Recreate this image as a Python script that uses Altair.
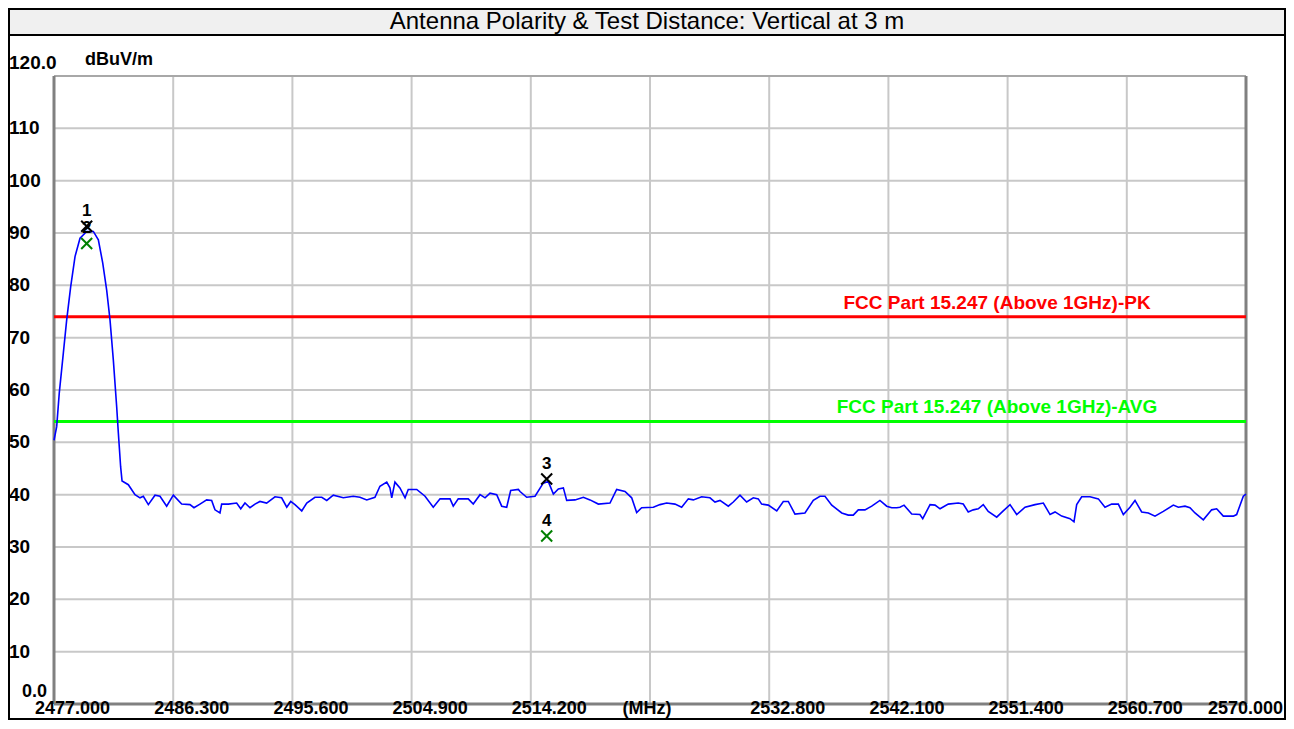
import altair as alt
import pandas as pd

# ---------------- data ----------------
freq = [2477.00, 2477.21, 2477.41, 2477.73, 2477.99, 2478.30, 2478.64, 2479.03, 2479.55, 2480.07,
        2480.46, 2480.80, 2481.11, 2481.37, 2481.63, 2481.89, 2482.02, 2482.20, 2482.31, 2482.80,
        2483.32, 2483.71, 2483.97, 2484.36, 2484.88, 2485.27, 2485.79, 2486.31, 2486.96, 2487.61,
        2487.92, 2488.39, 2488.91, 2489.30, 2489.56, 2489.95, 2490.08, 2490.60, 2491.25, 2491.57,
        2491.90, 2492.29, 2492.68, 2493.07, 2493.59, 2494.24, 2494.76, 2495.16, 2495.47, 2495.80,
        2496.33, 2496.72, 2497.36, 2497.89, 2498.28, 2498.79, 2499.57, 2500.35, 2500.87, 2501.40,
        2502.04, 2502.43, 2502.96, 2503.21, 2503.35, 2503.60, 2503.99, 2504.39, 2504.64, 2505.30,
        2505.95, 2506.59, 2507.12, 2507.90, 2508.15, 2508.54, 2509.32, 2509.71, 2510.24, 2510.63,
        2511.02, 2511.54, 2511.93, 2512.32, 2512.63, 2513.23, 2513.36, 2513.88, 2514.53, 2515.17,
        2515.57, 2515.96, 2516.35, 2516.74, 2517.00, 2517.65, 2518.30, 2518.82, 2519.47, 2520.38,
        2520.90, 2521.55, 2522.07, 2522.46, 2522.85, 2523.76, 2524.28, 2524.80, 2525.45, 2525.97,
        2526.49, 2526.88, 2527.53, 2528.18, 2528.57, 2528.96, 2529.61, 2530.00, 2530.52, 2531.04,
        2531.56, 2531.95, 2532.21, 2532.73, 2533.39, 2533.90, 2534.29, 2534.81, 2535.59, 2536.24,
        2536.76, 2537.15, 2537.68, 2538.46, 2538.97, 2539.36, 2539.75, 2540.27, 2540.80, 2541.44,
        2541.97, 2542.36, 2542.75, 2543.00, 2543.32, 2543.92, 2544.56, 2544.78, 2545.35, 2545.74,
        2546.13, 2546.77, 2547.55, 2547.94, 2548.33, 2548.72, 2549.11, 2549.50, 2549.89, 2550.55,
        2551.06, 2551.59, 2552.11, 2552.76, 2553.54, 2554.19, 2554.71, 2555.10, 2555.62, 2556.27,
        2556.58, 2556.79, 2557.18, 2557.83, 2558.48, 2559.00, 2559.52, 2560.04, 2560.43, 2560.95,
        2561.34, 2561.86, 2562.38, 2562.90, 2563.55, 2564.33, 2564.72, 2565.24, 2565.63, 2566.02,
        2566.67, 2567.32, 2567.71, 2568.23, 2569.01, 2569.27, 2569.79, 2570.00]

level = [50.4, 53.0, 59.4, 67.1, 73.4, 79.7, 85.5, 89.0, 90.3, 90.3,
         88.7, 84.3, 79.1, 73.4, 65.7, 56.8, 51.8, 45.3, 42.6, 41.9,
         40.0, 39.4, 39.7, 38.1, 39.9, 39.7, 37.8, 39.9, 38.2, 38.1,
         37.5, 38.2, 39.0, 38.9, 37.1, 36.5, 38.2, 38.2, 38.4, 37.3,
         38.4, 37.5, 38.2, 38.7, 38.4, 39.6, 39.4, 37.6, 38.7, 38.1,
         36.9, 38.4, 39.5, 39.5, 38.9, 39.9, 39.4, 39.7, 39.5, 39.0,
         39.5, 41.6, 42.4, 41.3, 39.4, 42.4, 41.3, 39.4, 41.0, 41.0,
         39.7, 37.6, 39.2, 39.2, 37.8, 39.2, 39.2, 38.2, 40.0, 39.4,
         40.3, 40.0, 37.8, 37.6, 40.8, 41.0, 40.6, 39.5, 39.7, 42.2,
         42.5, 40.1, 41.1, 41.3, 38.9, 39.0, 39.5, 39.0, 38.2, 38.4,
         41.0, 40.6, 39.4, 36.6, 37.5, 37.6, 38.1, 38.4, 38.2, 37.6,
         39.2, 39.0, 39.6, 39.4, 38.6, 38.9, 37.8, 38.6, 39.9, 38.6,
         39.4, 39.2, 38.2, 38.0, 36.9, 38.7, 38.7, 36.3, 36.5, 38.9,
         39.7, 39.7, 38.0, 36.5, 36.1, 36.1, 37.1, 37.1, 37.8, 38.9,
         37.8, 37.5, 37.5, 37.6, 38.0, 36.3, 36.2, 35.4, 38.1, 38.0,
         37.3, 38.2, 38.4, 38.2, 36.7, 37.1, 37.3, 38.1, 36.8, 35.7,
         36.9, 38.1, 36.2, 37.6, 38.1, 38.4, 36.2, 36.7, 35.9, 35.4,
         34.8, 38.1, 39.6, 39.6, 39.2, 37.6, 38.2, 38.2, 36.2, 37.6,
         38.9, 36.7, 36.5, 35.9, 36.8, 38.0, 37.6, 37.8, 37.5, 36.5,
         35.2, 37.1, 37.3, 35.9, 35.9, 36.2, 39.7, 40.1]

x_ticks = [2477.0, 2486.3, 2495.6, 2504.9, 2514.2, 2523.5, 2532.8, 2542.1, 2551.4, 2560.7, 2570.0]
x_labels = ["2477.000", "2486.300", "2495.600", "2504.900", "2514.200", "(MHz)",
            "2532.800", "2542.100", "2551.400", "2560.700", "2570.000"]
y_ticks = [10, 20, 30, 40, 50, 60, 70, 80, 90, 100, 110]
y_labels = ["10", "20", "30", "40", "50", "60", "70", "80", "90", "100", "110"]
y_top_label = "120.0"
y_bottom_label = "0.0"
unit_label = "dBuV/m"

limit_names = ["FCC Part 15.247 (Above 1GHz)-PK", "FCC Part 15.247 (Above 1GHz)-AVG"]
limit_values = [74, 54]
limit_colors = ["#ff0000", "#00ff00"]

marker_ids = ["1", "2", "3", "4"]
marker_freq = [2479.55, 2479.55, 2515.44, 2515.44]
marker_level = [91.3, 88.0, 43.0, 32.1]
marker_colors = ["#000000", "#008000", "#000000", "#008000"]

title_text = "Antenna Polarity & Test Distance: Vertical at 3 m"

# ---------------- layout ----------------
W, H = 1192, 628
PAD = {"left": 46, "top": 68, "right": 40, "bottom": 16}
FONT = "Liberation Sans"

xs = alt.Scale(domain=[2477, 2570], nice=False, zero=False)
ys = alt.Scale(domain=[0, 120], nice=False, zero=False)

trace_df = pd.DataFrame({"f": freq, "v": level})
xt_df = pd.DataFrame({"f": x_ticks, "lab": x_labels})
yt_df = pd.DataFrame({"v": y_ticks, "lab": y_labels})
lim_df = pd.DataFrame({"name": limit_names, "v": limit_values, "c": limit_colors})
mk_df = pd.DataFrame({"id": marker_ids, "f": marker_freq, "v": marker_level, "c": marker_colors})
one = pd.DataFrame({"a": [0]})

# outer frame and title bar
frame = alt.Chart(one).mark_rect(fill="white", stroke="black", strokeWidth=2).encode(
    x=alt.value(-45), x2=alt.value(W + PAD["right"] - 1),
    y=alt.value(-67), y2=alt.value(H + PAD["bottom"] - 1))
title_bar = alt.Chart(one).mark_rect(fill="#f0f0f0", stroke="black", strokeWidth=2).encode(
    x=alt.value(-45), x2=alt.value(W + PAD["right"] - 1),
    y=alt.value(-67), y2=alt.value(-41))
title = alt.Chart(pd.DataFrame({"t": [title_text]})).mark_text(
    font=FONT, fontSize=24, color="black", align="center", baseline="middle").encode(
    x=alt.value(593), y=alt.value(-54), text="t:N")

# gridlines
vgrid = alt.Chart(xt_df.iloc[1:-1]).mark_rule(color="#c8c8c8", strokeWidth=2).encode(
    x=alt.X("f:Q", scale=xs, axis=None), y=alt.value(0), y2=alt.value(H))
hgrid = alt.Chart(yt_df).mark_rule(color="#c8c8c8", strokeWidth=2).encode(
    y=alt.Y("v:Q", scale=ys, axis=None), x=alt.value(0), x2=alt.value(W))

# plot border
border_top = alt.Chart(one).mark_rule(color="#a8a8a8", strokeWidth=2).encode(
    x=alt.value(0), x2=alt.value(W), y=alt.value(0))
border_lrb = [
    alt.Chart(one).mark_rule(color="#808080", strokeWidth=3).encode(
        x=alt.value(0), y=alt.value(0), y2=alt.value(H)),
    alt.Chart(one).mark_rule(color="#808080", strokeWidth=3).encode(
        x=alt.value(W), y=alt.value(0), y2=alt.value(H)),
    alt.Chart(one).mark_rule(color="#808080", strokeWidth=3).encode(
        x=alt.value(0), x2=alt.value(W), y=alt.value(H)),
]

# limit lines
limits = alt.Chart(lim_df).mark_rule(strokeWidth=3).encode(
    y=alt.Y("v:Q", scale=ys, axis=None), x=alt.value(0), x2=alt.value(W),
    color=alt.Color("c:N", scale=None))
limit_text = alt.Chart(lim_df).mark_text(
    font=FONT, fontSize=19, fontWeight="bold", align="center", baseline="middle", dy=-14).encode(
    y=alt.Y("v:Q", scale=ys, axis=None), x=alt.value(943), text="name:N",
    color=alt.Color("c:N", scale=None))

# trace
trace = alt.Chart(trace_df).mark_line(color="#0000ff", strokeWidth=1.6).encode(
    x=alt.X("f:Q", scale=xs, axis=None), y=alt.Y("v:Q", scale=ys, axis=None))

# markers
markers = alt.Chart(mk_df).mark_point(
    shape="M-1,-1L1,1M-1,1L1,-1", size=120, strokeWidth=2, filled=False, opacity=1).encode(
    x=alt.X("f:Q", scale=xs, axis=None), y=alt.Y("v:Q", scale=ys, axis=None),
    stroke=alt.Color("c:N", scale=None))
marker_text = alt.Chart(mk_df).mark_text(
    font=FONT, fontSize=17, fontWeight="bold", color="black", baseline="middle", dy=-15).encode(
    x=alt.X("f:Q", scale=xs, axis=None), y=alt.Y("v:Q", scale=ys, axis=None), text="id:N")

# axis labels
ylab = alt.Chart(yt_df).mark_text(
    font=FONT, fontSize=19, fontWeight="bold", color="black", align="left", baseline="middle").encode(
    y=alt.Y("v:Q", scale=ys, axis=None), x=alt.value(-45), text="lab:N")
ylab_top = alt.Chart(pd.DataFrame({"v": [120], "lab": [y_top_label]})).mark_text(
    font=FONT, fontSize=19, fontWeight="bold", color="black", align="left", baseline="middle", dy=-13).encode(
    y=alt.Y("v:Q", scale=ys, axis=None), x=alt.value(-45), text="lab:N")
ylab_bot = alt.Chart(pd.DataFrame({"v": [0], "lab": [y_bottom_label]})).mark_text(
    font=FONT, fontSize=18, fontWeight="bold", color="black", align="left", baseline="middle", dy=-12).encode(
    y=alt.Y("v:Q", scale=ys, axis=None), x=alt.value(-32), text="lab:N")
unit = alt.Chart(pd.DataFrame({"t": [unit_label]})).mark_text(
    font=FONT, fontSize=18, fontWeight="bold", color="black", align="left", baseline="middle").encode(
    x=alt.value(31), y=alt.value(-16), text="t:N")

XL_Y = 633
XL_FS = 18
xlab_main = alt.Chart(xt_df[(xt_df["lab"] != "(MHz)")].iloc[:-1]).mark_text(
    font=FONT, fontSize=XL_FS, fontWeight="bold", color="black", align="left", baseline="middle", dx=-19).encode(
    x=alt.X("f:Q", scale=xs, axis=None), y=alt.value(XL_Y), text="lab:N")
xlab_unit = alt.Chart(xt_df[xt_df["lab"] == "(MHz)"]).mark_text(
    font=FONT, fontSize=XL_FS, fontWeight="bold", color="black", align="center", baseline="middle", dx=-3).encode(
    x=alt.X("f:Q", scale=xs, axis=None), y=alt.value(XL_Y), text="lab:N")
xlab_last = alt.Chart(xt_df.iloc[-1:]).mark_text(
    font=FONT, fontSize=XL_FS, fontWeight="bold", color="black", align="right", baseline="middle", dx=37).encode(
    x=alt.X("f:Q", scale=xs, axis=None), y=alt.value(XL_Y), text="lab:N")

chart = alt.layer(
    frame, title_bar, title,
    vgrid, hgrid, border_top, *border_lrb,
    limits, limit_text, trace, markers, marker_text,
    ylab, ylab_top, ylab_bot, unit, xlab_main, xlab_unit, xlab_last,
).properties(
    width=W, height=H, padding=PAD, autosize="none", background="white"
).configure_view(strokeWidth=0)

chart.save("out.html", embed_options={"renderer": "svg", "actions": False})
